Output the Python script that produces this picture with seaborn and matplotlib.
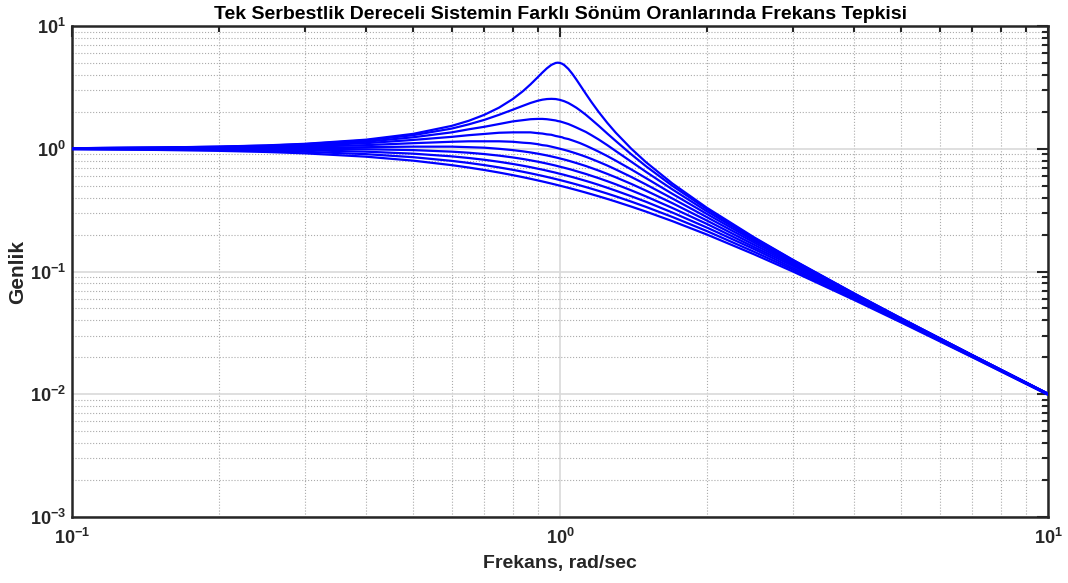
import numpy as np
import pandas as pd
import matplotlib
matplotlib.use("Agg")
import matplotlib.pyplot as plt
import seaborn as sns
from matplotlib.ticker import LogLocator, NullFormatter, FuncFormatter

# Frequency ratio (rad/sec) at which the curves were read
FREQ = [0.1, 0.15, 0.2, 0.25, 0.3, 0.4, 0.5, 0.6, 0.65, 0.7, 0.75, 0.8, 0.84, 0.87,
        0.9, 0.92, 0.94, 0.96, 0.98, 0.99, 1.0, 1.01, 1.02, 1.04, 1.06, 1.08, 1.1,
        1.13, 1.16, 1.2, 1.25, 1.3, 1.4, 1.5, 1.7, 2.0, 2.5, 3.0, 4.0, 5.0, 7.0, 10.0]

# Damping ratios (one curve each)
ZETA = [0.1, 0.2, 0.3, 0.4, 0.5, 0.6, 0.7, 0.8, 0.9, 1.0]

# Amplitude (Genlik) for each damping ratio
AMP_01 = [1.01, 1.023, 1.041, 1.065, 1.097, 1.185, 1.322, 1.536, 1.689, 1.891, 2.162, 2.538,
          2.95, 3.345, 3.821, 4.172, 4.522, 4.822, 5.001, 5.025, 5.0, 4.926, 4.809, 4.476,
          4.075, 3.668, 3.288, 2.798, 2.402, 1.995, 1.625, 1.356, 1.0, 0.7779, 0.5207,
          0.3304, 0.1896, 0.1246, 0.06657, 0.04163, 0.02082, 0.0101]
AMP_02 = [1.01, 1.02, 1.04, 1.06, 1.09, 1.17, 1.29, 1.46, 1.58, 1.72, 1.89, 2.08, 2.24, 2.36,
          2.46, 2.51, 2.54, 2.55, 2.54, 2.52, 2.5, 2.47, 2.44, 2.36, 2.26, 2.16, 2.05, 1.89,
          1.73, 1.54, 1.33, 1.16, 0.9, 0.721, 0.498, 0.322, 0.187, 0.124, 0.0663, 0.0415,
          0.0208, 0.0101]
AMP_03 = [1.01, 1.02, 1.03, 1.05, 1.08, 1.14, 1.24, 1.36, 1.44, 1.51, 1.59, 1.67, 1.71, 1.74,
          1.75, 1.75, 1.74, 1.72, 1.7, 1.68, 1.67, 1.65, 1.63, 1.59, 1.54, 1.49, 1.44, 1.37,
          1.29, 1.19, 1.07, 0.96, 0.784, 0.649, 0.466, 0.309, 0.183, 0.122, 0.0658, 0.0413,
          0.0208, 0.0101]
AMP_04 = [1.01, 1.02, 1.03, 1.04, 1.06, 1.11, 1.18, 1.25, 1.29, 1.32, 1.35, 1.36, 1.36, 1.36,
          1.34, 1.33, 1.31, 1.3, 1.27, 1.26, 1.25, 1.24, 1.22, 1.2, 1.17, 1.14, 1.11, 1.06,
          1.01, 0.947, 0.872, 0.801, 0.678, 0.577, 0.429, 0.294, 0.178, 0.12, 0.0652, 0.0411,
          0.0207, 0.0101]
AMP_05 = [1.0, 1.01, 1.02, 1.03, 1.04, 1.07, 1.11, 1.14, 1.15, 1.15, 1.15, 1.14, 1.12, 1.11,
          1.09, 1.07, 1.06, 1.04, 1.02, 1.01, 1.0, 0.99, 0.98, 0.959, 0.937, 0.915, 0.893,
          0.86, 0.826, 0.782, 0.73, 0.679, 0.589, 0.512, 0.393, 0.277, 0.172, 0.117, 0.0644,
          0.0408, 0.0206, 0.01]
AMP_06 = [1.0, 1.01, 1.01, 1.02, 1.02, 1.03, 1.04, 1.04, 1.03, 1.02, 0.999, 0.975, 0.952,
          0.933, 0.912, 0.897, 0.882, 0.866, 0.85, 0.842, 0.833, 0.825, 0.817, 0.8, 0.782,
          0.765, 0.748, 0.723, 0.697, 0.664, 0.624, 0.586, 0.517, 0.456, 0.36, 0.26, 0.165,
          0.114, 0.0635, 0.0404, 0.0205, 0.01]
AMP_07 = [1.0, 1.0, 1.0, 0.999, 0.998, 0.991, 0.975, 0.947, 0.928, 0.905, 0.879, 0.85, 0.825,
          0.805, 0.785, 0.771, 0.757, 0.743, 0.729, 0.721, 0.714, 0.707, 0.7, 0.686, 0.672,
          0.657, 0.643, 0.623, 0.602, 0.576, 0.544, 0.514, 0.458, 0.409, 0.329, 0.244, 0.158,
          0.111, 0.0625, 0.04, 0.0204, 0.01]
AMP_08 = [0.997, 0.994, 0.988, 0.981, 0.972, 0.947, 0.912, 0.867, 0.841, 0.813, 0.783, 0.752,
          0.727, 0.708, 0.688, 0.676, 0.663, 0.65, 0.638, 0.631, 0.625, 0.619, 0.613, 0.6,
          0.588, 0.576, 0.564, 0.547, 0.53, 0.508, 0.481, 0.456, 0.41, 0.37, 0.302, 0.228,
          0.152, 0.107, 0.0613, 0.0395, 0.0203, 0.00997]
AMP_09 = [0.9938, 0.9861, 0.9753, 0.9616, 0.945, 0.9039, 0.8536, 0.7966, 0.7664, 0.7357,
          0.7047, 0.6737, 0.6492, 0.631, 0.6131, 0.6013, 0.5896, 0.5781, 0.5668, 0.5611,
          0.5556, 0.55, 0.5445, 0.5337, 0.523, 0.5125, 0.5022, 0.4871, 0.4725, 0.4536,
          0.4312, 0.4099, 0.3708, 0.3361, 0.278, 0.2134, 0.1446, 0.1036, 0.0601, 0.03901,
          0.02015, 0.009938]
AMP_10 = [0.9901, 0.978, 0.9615, 0.9412, 0.9174, 0.8621, 0.8, 0.7353, 0.703, 0.6711, 0.64,
          0.6098, 0.5863, 0.5692, 0.5525, 0.5416, 0.5309, 0.5204, 0.5101, 0.505, 0.5, 0.495,
          0.4901, 0.4804, 0.4709, 0.4616, 0.4525, 0.4392, 0.4263, 0.4098, 0.3902, 0.3717,
          0.3378, 0.3077, 0.2571, 0.2, 0.1379, 0.1, 0.05882, 0.03846, 0.02, 0.009901]

TITLE = "Tek Serbestlik Dereceli Sistemin Farklı Sönüm Oranlarında Frekans Tepkisi"
XLABEL = "Frekans, rad/sec"
YLABEL = "Genlik"

AMPS = [AMP_01, AMP_02, AMP_03, AMP_04, AMP_05, AMP_06, AMP_07, AMP_08, AMP_09, AMP_10]
df = pd.DataFrame({
    "freq": FREQ * len(ZETA),
    "amp": [v for series in AMPS for v in series],
    "zeta": [z for z in ZETA for _ in FREQ],
})

sns.set_style("white")
plt.rcParams["font.family"] = ["Liberation Sans", "DejaVu Sans"]
plt.rcParams["mathtext.fontset"] = "custom"
plt.rcParams["mathtext.rm"] = "Liberation Sans"
plt.rcParams["mathtext.bf"] = "Liberation Sans:bold"

DARK = "#262626"
fig = plt.figure(figsize=(10.68, 5.83), dpi=100)
ax = fig.add_axes([72 / 1068, 1 - 517 / 583, 976 / 1068, 491 / 583])
sns.lineplot(data=df, x="freq", y="amp", hue="zeta", palette=["#0000ff"] * len(ZETA),
             legend=False, linewidth=1.6, ax=ax, estimator=None, zorder=3)
ax.set_xscale("log")
ax.set_yscale("log")
ax.set_xlim(0.1, 10)
ax.set_ylim(1e-3, 10)

fmt = FuncFormatter(lambda v, p: r"$\mathbf{10^{%d}}$" % int(round(np.log10(v))))
for axis in (ax.xaxis, ax.yaxis):
    axis.set_major_locator(LogLocator(base=10, numticks=10))
    axis.set_minor_locator(LogLocator(base=10, subs=np.arange(2, 10), numticks=100))
    axis.set_major_formatter(fmt)
    axis.set_minor_formatter(NullFormatter())

ax.grid(True, which="major", color="#d9d9d9", linewidth=1.2, linestyle="-", zorder=0)
ax.grid(True, which="minor", color="#ababab", linewidth=0.8, linestyle=":", zorder=0)
ax.set_axisbelow(True)
ax.tick_params(which="both", direction="in", top=True, right=True, color=DARK,
               width=1.5, labelsize=13, labelcolor=DARK)
ax.tick_params(which="major", length=8)
ax.tick_params(which="minor", length=4.5)
ax.tick_params(axis="y", pad=4.5)
ax.tick_params(axis="x", pad=8)
for s in ax.spines.values():
    s.set_color(DARK)
    s.set_linewidth(1.8)

ax.set_title(TITLE, fontsize=14, fontweight="bold", color="black", pad=5)
ax.set_xlabel(XLABEL, fontsize=14, fontweight="bold", color=DARK, labelpad=5)
ax.set_ylabel(YLABEL, fontsize=15, fontweight="bold", color=DARK, labelpad=2)

fig.savefig("out.png", dpi=100)
